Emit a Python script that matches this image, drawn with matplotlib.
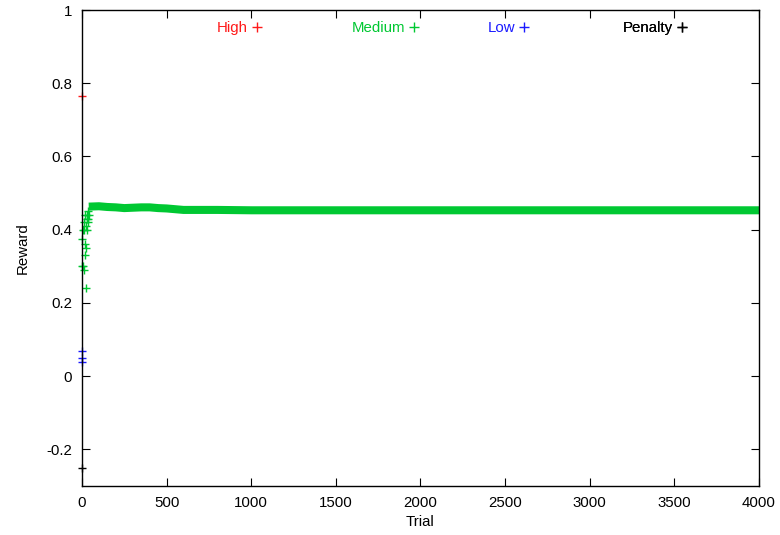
import matplotlib.pyplot as plt

plt.rcParams['font.family'] = ['Liberation Sans', 'DejaVu Sans']
plt.rcParams['font.size'] = 10.8

RED = '#ff1a1a'
GREEN = '#00c832'
BLUE = '#1a1aff'
BLACK = '#000000'

# single early trials for each reward type
high_trial = [1]
high_reward = [0.765]

low_trial = [1, 2, 3]
low_reward = [0.07, 0.05, 0.04]

penalty_trial = [1]
penalty_reward = [-0.25]

# medium reward, first trials (running average still moving a lot)
med_early_trial = [1, 3, 5, 7, 9, 11, 13, 15, 17, 19, 21, 23, 25, 27, 29,
                   31, 33, 35, 37, 39]
med_early_reward = [0.30, 0.375, 0.40, 0.30, 0.29, 0.42, 0.40, 0.36, 0.44,
                    0.33, 0.35, 0.24, 0.41, 0.43, 0.40, 0.44, 0.42, 0.45,
                    0.43, 0.44]

# medium reward once it settles
med_trial = [40, 100, 150, 200, 250, 300, 350, 400, 450, 500, 550, 600, 700,
             800, 1000, 1200, 1500, 2000, 2500, 3000, 3500, 4000]
med_reward = [0.463, 0.464, 0.462, 0.461, 0.459, 0.460, 0.461, 0.461, 0.459,
              0.458, 0.456, 0.454, 0.454, 0.454, 0.453, 0.453, 0.453, 0.453,
              0.453, 0.453, 0.453, 0.453]

fig = plt.figure(figsize=(7.8, 5.35), dpi=100)
ax = fig.add_axes([0.1051, 0.0916, 0.868, 0.8897])

ms = 6
ax.plot(med_trial, med_reward, color=GREEN, lw=5.8, solid_capstyle='butt')
ax.plot(med_early_trial, med_early_reward, '+', color=GREEN, ms=ms, mew=1,
        clip_on=False)
ax.plot(high_trial, high_reward, '+', color=RED, ms=ms, mew=1, clip_on=False)
ax.plot(low_trial, low_reward, '+', color=BLUE, ms=ms, mew=1, clip_on=False)
ax.plot(penalty_trial, penalty_reward, '+', color=BLACK, ms=ms, mew=1,
        clip_on=False)

ax.set_xlim(0, 4000)
ax.set_ylim(-0.3, 1)
ax.set_xticks(range(0, 4001, 500))
ax.set_yticks([-0.2, 0, 0.2, 0.4, 0.6, 0.8, 1])
ax.set_yticklabels(['-0.2', '0', '0.2', '0.4', '0.6', '0.8', '1'])
ax.tick_params(direction='in', length=6, top=True, right=True, pad=7)
for s in ax.spines.values():
    s.set_linewidth(1)

ax.set_xlabel('Trial', labelpad=4)
ax.set_ylabel('Reward', labelpad=12)

# key: one entry per reward type, text then point sample
entries = [('High', RED, 0.2674), ('Medium', GREEN, 0.500),
           ('Low', BLUE, 0.662), ('Penalty', BLACK, 0.895)]
for name, col, xa in entries:
    h, = ax.plot([], [], '+', color=col, ms=6.5, mew=1)
    leg = ax.legend([h], [name], loc='center right', bbox_to_anchor=(xa, 0.962),
                    frameon=False, markerfirst=False, handlelength=0.8,
                    handletextpad=0.2, borderpad=0, borderaxespad=0,
                    labelcolor=col)
    ax.add_artist(leg)

fig.savefig('out.png', dpi=100)
